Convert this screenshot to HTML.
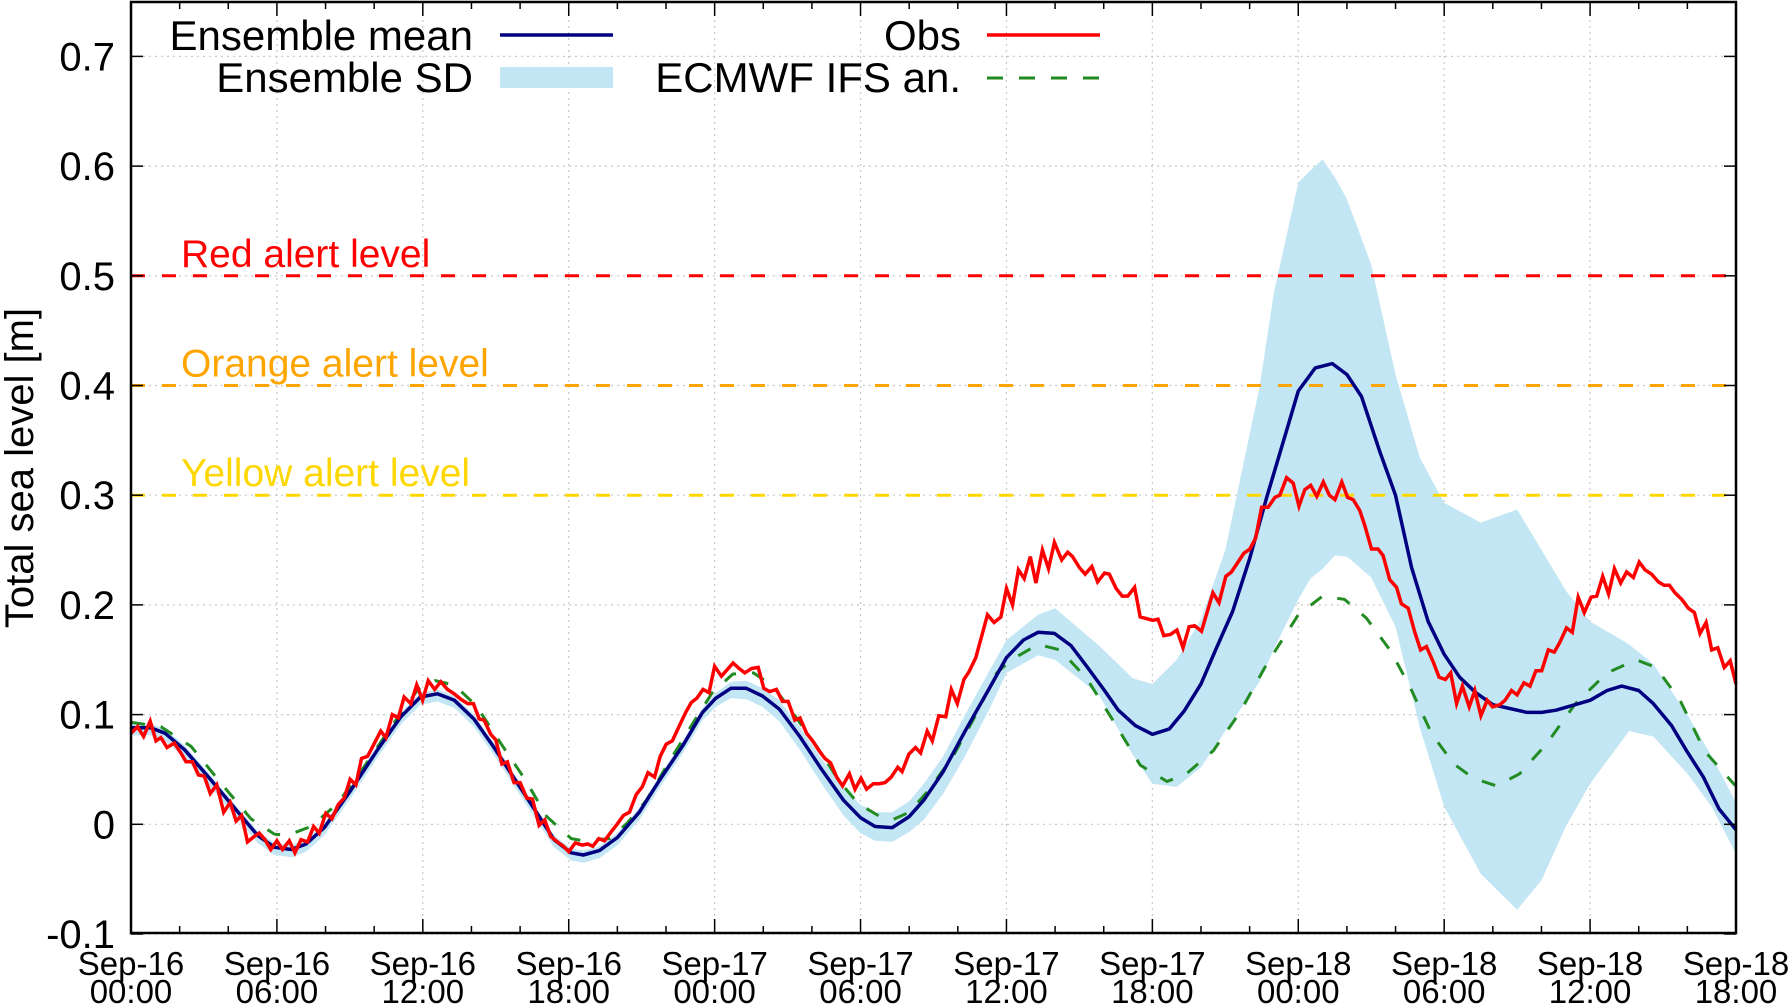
<!DOCTYPE html>
<html><head><meta charset="utf-8"><style>
html,body{margin:0;padding:0;background:#fff}
svg{display:block}
text{font-family:"Liberation Sans",sans-serif;fill:#000}
</style></head><body>
<svg id="chart" width="1788" height="1005" viewBox="0 0 1788 1005" xmlns="http://www.w3.org/2000/svg">
<g id="grid"></g>
<g id="band"></g>
<g id="alerts"></g>
<g id="series"></g>
<g id="axes"></g>
<g id="legend">
  <text x="473" y="50" font-size="42" text-anchor="end">Ensemble mean</text>
  <line x1="500" y1="35" x2="613" y2="35" stroke="#000080" stroke-width="3.5"/>
  <text x="473" y="92" font-size="42" text-anchor="end">Ensemble SD</text>
  <rect x="500" y="67" width="113" height="21" fill="#c3e6f4"/>
  <text x="961" y="50" font-size="42" text-anchor="end">Obs</text>
  <line x1="987" y1="35" x2="1100" y2="35" stroke="#ff0000" stroke-width="3.5"/>
  <text x="961" y="92" font-size="42" text-anchor="end">ECMWF IFS an.</text>
  <line x1="987" y1="78" x2="1100" y2="78" stroke="#228b22" stroke-width="3" stroke-dasharray="16,16"/>
</g>
<text x="0" y="0" font-size="40" text-anchor="middle" transform="translate(33,468) rotate(-90)">Total sea level [m]</text>
</svg>
<script>
// ---- data ----
const yTicks = [-0.1, 0, 0.1, 0.2, 0.3, 0.4, 0.5, 0.6, 0.7];
const yTickLabels = ["-0.1", "0", "0.1", "0.2", "0.3", "0.4", "0.5", "0.6", "0.7"];
const xTickHours = [0, 6, 12, 18, 24, 30, 36, 42, 48, 54, 60, 66];
const xTickDates = ["Sep-16","Sep-16","Sep-16","Sep-16","Sep-17","Sep-17","Sep-17","Sep-17","Sep-18","Sep-18","Sep-18","Sep-18"];
const xTickTimes = ["00:00","06:00","12:00","18:00","00:00","06:00","12:00","18:00","00:00","06:00","12:00","18:00"];
const alertLevels = [0.5, 0.4, 0.3];
const alertNames = ["Red alert level", "Orange alert level", "Yellow alert level"];
const alertColors = ["#ff0000", "#ffa500", "#ffd700"];

const meanHours = [0,0.8,1.4,2.2,3.15,4.1,5.2,5.9,6.6,7.2,7.95,9.04,10.14,11.1,11.9,12.6,13.3,14.1,14.9,15.9,16.7,17.4,18.1,18.6,19.26,20,20.9,21.7,22.7,23.5,24.05,24.67,25.3,25.97,26.66,27.5,28.4,29.3,30,30.6,31.3,32,32.6,33.4,34.3,35.3,36,36.7,37.3,37.97,38.65,39.3,40,40.6,41.3,42,42.7,43.3,44,44.6,45.3,46,46.7,47.4,48,48.7,49.4,50,50.6,51.35,52,52.66,53.34,54,54.64,55.3,56,57.4,58,58.6,60,60.7,61.3,62,62.6,63.35,63.97,64.66,65.3,66];
const meanValues = [0.088,0.088,0.083,0.068,0.044,0.019,-0.01,-0.021,-0.023,-0.018,-0.003,0.031,0.068,0.098,0.116,0.119,0.113,0.096,0.071,0.037,0.01,-0.014,-0.026,-0.028,-0.024,-0.012,0.011,0.039,0.072,0.102,0.115,0.124,0.124,0.117,0.105,0.08,0.05,0.022,0.006,-0.002,-0.003,0.007,0.022,0.048,0.085,0.124,0.152,0.168,0.175,0.174,0.163,0.144,0.123,0.104,0.09,0.082,0.087,0.103,0.128,0.159,0.194,0.242,0.298,0.35,0.395,0.416,0.42,0.41,0.39,0.34,0.3,0.234,0.185,0.155,0.134,0.12,0.109,0.102,0.102,0.104,0.113,0.122,0.126,0.122,0.11,0.09,0.067,0.043,0.014,-0.005];

const bandHours = [0,0.8,1.4,2.2,3.15,4.1,5.2,5.9,6.6,7.2,7.95,9.04,10.14,11.1,11.9,12.6,13.3,14.1,14.9,15.9,16.7,17.4,18.1,18.6,19.26,20,20.9,21.7,22.7,23.5,24.05,24.67,25.3,25.97,26.66,27.5,28.4,29.3,30,30.6,31.3,32,32.6,33.4,34.3,35.3,36,37.3,38,39.8,41.2,42,43,44,45,46.4,47,48,48.5,49,49.5,50,51,52,53,54,55.5,57,58,59,60,61.6,62.6,64,65,66];
const bandUpper = [0.092,0.092,0.087,0.072,0.048,0.023,-0.006,-0.017,-0.019,-0.014,0.001,0.035,0.072,0.102,0.120,0.123,0.117,0.100,0.075,0.041,0.014,-0.010,-0.022,-0.024,-0.020,-0.008,0.015,0.043,0.076,0.106,0.120,0.130,0.131,0.124,0.113,0.089,0.060,0.033,0.018,0.011,0.011,0.021,0.037,0.062,0.100,0.140,0.168,0.191,0.197,0.163,0.133,0.128,0.15,0.187,0.25,0.398,0.485,0.585,0.596,0.606,0.59,0.57,0.51,0.41,0.334,0.293,0.275,0.287,0.25,0.213,0.185,0.164,0.146,0.1,0.062,0.02];
const bandLower = [0.081,0.081,0.076,0.061,0.037,0.012,-0.017,-0.028,-0.030,-0.025,-0.010,0.024,0.061,0.091,0.109,0.112,0.106,0.089,0.064,0.030,0.003,-0.021,-0.033,-0.035,-0.031,-0.019,0.004,0.032,0.065,0.095,0.107,0.115,0.114,0.107,0.094,0.068,0.037,0.008,-0.008,-0.015,-0.016,-0.007,0.004,0.028,0.062,0.105,0.138,0.154,0.15,0.118,0.063,0.037,0.034,0.052,0.085,0.13,0.16,0.205,0.224,0.233,0.245,0.244,0.225,0.18,0.088,0.016,-0.045,-0.078,-0.051,-0.002,0.037,0.085,0.08,0.046,0.016,-0.027];

const ecmwfHours = [0,1.23,2.47,3.7,4.93,5.9,6.44,7.4,8.5,9.6,10.7,11.8,12.5,13.3,14.2,15.2,16.2,17.1,18.1,18.6,19.7,20.4,21.2,22.1,23.1,23.9,24.75,25.6,26.4,27.2,28.2,29.1,29.9,30.8,31.3,32,32.8,33.8,34.7,35.6,36.2,37.3,38.2,39.3,40.4,41.5,42.6,43.4,44.5,45.6,46.7,48,49,49.9,50.8,51.8,52.6,53.5,54.4,55.2,56.15,57.1,58.2,59.4,60.7,61.9,62.7,63.7,64.7,65.9,66];
const ecmwfValues = [0.093,0.089,0.071,0.0375,0.005,-0.009,-0.01,-0.002,0.019,0.053,0.089,0.123,0.131,0.127,0.108,0.074,0.041,0.007,-0.013,-0.015,-0.013,0.001,0.022,0.056,0.092,0.12,0.137,0.138,0.126,0.102,0.071,0.04,0.019,0.007,0.004,0.011,0.031,0.062,0.098,0.138,0.15,0.164,0.159,0.133,0.094,0.054,0.039,0.046,0.067,0.102,0.146,0.191,0.208,0.205,0.188,0.158,0.125,0.082,0.055,0.042,0.035,0.046,0.073,0.11,0.138,0.15,0.143,0.113,0.067,0.037,0.035];

const obsHours = [0,0.27,0.52,0.79,1.03,1.23,1.48,1.78,2.05,2.26,2.53,2.77,3.01,3.26,3.53,3.81,4.08,4.32,4.55,4.79,5.07,5.27,5.51,5.75,6.0,6.23,6.51,6.74,6.99,7.26,7.51,7.74,8.01,8.26,8.52,8.77,9.01,9.25,9.48,9.73,10.27,10.48,10.75,10.99,11.23,11.51,11.75,11.99,12.22,12.49,12.74,13.01,13.29,13.56,13.84,14.08,14.32,14.52,14.79,15.0,15.25,15.48,15.75,16.0,16.27,16.51,16.78,17.01,17.26,17.53,17.78,18.0,18.27,18.55,18.78,18.99,19.24,19.47,19.74,20.02,20.25,20.5,20.77,21.02,21.26,21.53,21.76,22.01,22.26,22.53,22.81,23.04,23.27,23.52,23.77,24.0,24.28,24.52,24.76,25.01,25.24,25.51,25.79,26.02,26.27,26.54,26.79,27.02,27.3,27.51,27.78,28.03,28.3,28.54,28.77,29.02,29.26,29.54,29.77,30.02,30.25,30.53,30.77,31.01,31.26,31.53,31.71,31.99,32.26,32.47,32.74,32.95,33.22,33.5,33.73,33.98,34.25,34.46,34.74,35.22,35.49,35.77,36.0,36.25,36.49,36.73,36.98,37.21,37.48,37.73,37.97,38.27,38.52,38.72,39.0,39.24,39.51,39.75,40.03,40.23,40.51,40.76,40.99,41.27,41.5,42.02,42.23,42.47,42.74,43.01,43.26,43.51,43.74,44.02,44.49,44.74,45.02,45.25,45.52,45.76,46.01,46.25,46.49,46.76,47.04,47.24,47.52,47.79,48.03,48.27,48.51,48.76,49.03,49.28,49.51,49.79,50.03,50.26,50.53,50.74,51.01,51.28,51.49,51.76,52.04,52.24,52.52,52.79,53.03,53.27,53.55,53.79,54.05,54.27,54.51,54.75,55.03,55.26,55.51,55.77,55.99,56.29,56.5,56.77,57.0,57.28,57.53,57.77,58.01,58.28,58.53,58.76,59.03,59.27,59.51,59.76,60.04,60.27,60.52,60.76,61.0,61.26,61.5,61.78,62.02,62.26,62.53,62.81,63.04,63.26,63.49,63.77,64.04,64.29,64.52,64.77,65.0,65.25,65.52,65.76,66.0];
const obsValues = [0.083,0.089,0.080,0.094,0.076,0.079,0.070,0.074,0.065,0.057,0.057,0.045,0.044,0.028,0.036,0.011,0.020,0.003,0.008,-0.016,-0.011,-0.008,-0.014,-0.023,-0.015,-0.023,-0.015,-0.026,-0.014,-0.016,-0.002,-0.008,0.010,0.005,0.018,0.024,0.041,0.036,0.060,0.062,0.085,0.079,0.100,0.097,0.116,0.110,0.127,0.113,0.131,0.123,0.130,0.123,0.119,0.114,0.110,0.110,0.096,0.095,0.082,0.077,0.055,0.057,0.038,0.038,0.024,0.023,-0.001,0.004,-0.011,-0.016,-0.020,-0.025,-0.017,-0.019,-0.018,-0.020,-0.013,-0.015,-0.007,0.001,0.008,0.011,0.027,0.034,0.047,0.043,0.062,0.073,0.076,0.089,0.102,0.111,0.115,0.123,0.120,0.144,0.135,0.141,0.147,0.142,0.138,0.142,0.143,0.124,0.121,0.123,0.112,0.112,0.095,0.097,0.083,0.076,0.067,0.060,0.056,0.043,0.035,0.046,0.032,0.042,0.032,0.037,0.037,0.038,0.043,0.052,0.048,0.064,0.070,0.065,0.085,0.076,0.099,0.098,0.123,0.110,0.132,0.139,0.152,0.191,0.184,0.189,0.215,0.200,0.232,0.224,0.244,0.220,0.250,0.233,0.257,0.241,0.248,0.244,0.234,0.228,0.235,0.221,0.229,0.228,0.215,0.208,0.208,0.216,0.189,0.186,0.187,0.172,0.173,0.177,0.161,0.180,0.181,0.176,0.211,0.202,0.226,0.230,0.239,0.247,0.251,0.261,0.289,0.289,0.298,0.300,0.316,0.311,0.290,0.305,0.309,0.299,0.312,0.300,0.296,0.312,0.298,0.296,0.286,0.272,0.251,0.251,0.245,0.223,0.216,0.201,0.197,0.175,0.159,0.162,0.148,0.134,0.132,0.138,0.110,0.126,0.107,0.122,0.099,0.113,0.107,0.109,0.113,0.122,0.118,0.129,0.126,0.140,0.140,0.159,0.157,0.166,0.179,0.175,0.207,0.193,0.207,0.208,0.226,0.210,0.233,0.220,0.230,0.225,0.239,0.232,0.228,0.221,0.218,0.218,0.211,0.205,0.197,0.193,0.174,0.184,0.159,0.161,0.143,0.149,0.128];

// ---- axes ----
const PL = 131, PR = 1736, PT = 2, PB = 933;
const HMAX = 66;
function X(h) { return PL + (h / HMAX) * (PR - PL); }
function Y(v) { return 824.3 - 1097 * v; }
const NS = "http://www.w3.org/2000/svg";
function mk(tag, attrs, parent) {
  const e = document.createElementNS(NS, tag);
  for (const k in attrs) e.setAttribute(k, attrs[k]);
  parent.appendChild(e);
  return e;
}
function pathFrom(hs, vs) {
  return hs.map((h, i) => (i ? "L" : "M") + X(h).toFixed(1) + "," + Y(vs[i]).toFixed(1)).join("");
}
const gGrid = document.getElementById("grid");
const gBand = document.getElementById("band");
const gAlerts = document.getElementById("alerts");
const gSeries = document.getElementById("series");
const gAxes = document.getElementById("axes");

yTicks.forEach((v) => {
  const l = mk("line", {x1: PL, x2: PR, y1: Y(v), y2: Y(v), stroke: "#c8c8c8", "stroke-width": 1.2, "stroke-dasharray": "2,4"}, gGrid);
  
  
});
xTickHours.forEach((h) => {
  const l = mk("line", {x1: X(h), x2: X(h), y1: PT, y2: PB, stroke: "#c8c8c8", "stroke-width": 1.2, "stroke-dasharray": "2,4"}, gGrid);
  
  
});

const bandD = pathFrom(bandHours, bandUpper) + bandHours.slice().reverse().map((h, i) => "L" + X(h).toFixed(1) + "," + Y(bandLower[bandHours.length - 1 - i]).toFixed(1)).join("") + "Z";
const bandPath = mk("path", {d: bandD, fill: "#c3e6f4", stroke: "none"}, gBand);



alertLevels.forEach((v, i) => {
  const l = mk("line", {x1: PL, x2: PR, y1: Y(v), y2: Y(v), stroke: alertColors[i], "stroke-width": 3, "stroke-dasharray": "14,17"}, gAlerts);
  
  
  const t = mk("text", {x: 181, y: Y(v) - 9, "font-size": 39}, gAlerts);
  
  
  t.style.fill = alertColors[i];
  t.textContent = alertNames[i];
});

const eLine = mk("path", {d: pathFrom(ecmwfHours, ecmwfValues), fill: "none", stroke: "#228b22", "stroke-width": 3, "stroke-dasharray": "14,16"}, gSeries);


const mLine = mk("path", {d: pathFrom(meanHours, meanValues), fill: "none", stroke: "#000080", "stroke-width": 3.5, "stroke-linejoin": "round"}, gSeries);


const oLine = mk("path", {d: pathFrom(obsHours, obsValues), fill: "none", stroke: "#ff0000", "stroke-width": 3.5, "stroke-linejoin": "miter"}, gSeries);



const frame = mk("rect", {x: PL, y: PT, width: PR - PL, height: PB - PT, fill: "none", stroke: "#000", "stroke-width": 2.5}, gAxes);



yTicks.forEach((v, i) => {
  const a = mk("line", {x1: PL, x2: PL + 12, y1: Y(v), y2: Y(v), stroke: "#000", "stroke-width": 1.5}, gAxes);
  
  
  const b = mk("line", {x1: PR, x2: PR - 12, y1: Y(v), y2: Y(v), stroke: "#000", "stroke-width": 1.5}, gAxes);
  
  
  const t = mk("text", {x: PL - 16, y: Y(v) + 14, "font-size": 40, "text-anchor": "end"}, gAxes);
  
  
  t.textContent = yTickLabels[i];
});
for (let h = 0; h <= HMAX; h += 2) {
  const major = h % 6 === 0;
  const len = major ? 14 : 7;
  const a = mk("line", {x1: X(h), x2: X(h), y1: PB, y2: PB - len, stroke: "#000", "stroke-width": 1.5}, gAxes);
  
  
  const b = mk("line", {x1: X(h), x2: X(h), y1: PT, y2: PT + len, stroke: "#000", "stroke-width": 1.5}, gAxes);
  
  
}
xTickHours.forEach((h, i) => {
  const t1 = mk("text", {x: X(h), y: 975, "font-size": 33, "text-anchor": "middle"}, gAxes);
  
  
  t1.textContent = xTickDates[i];
  const t2 = mk("text", {x: X(h), y: 1003, "font-size": 33, "text-anchor": "middle"}, gAxes);
  
  
  t2.textContent = xTickTimes[i];
});
</script>
</body></html>
